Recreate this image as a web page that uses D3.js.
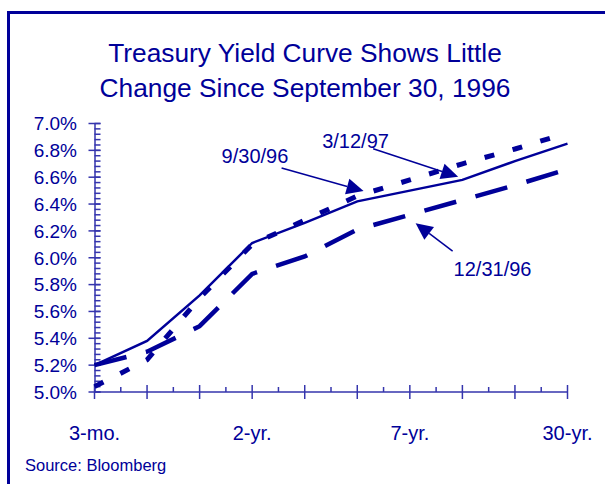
<!DOCTYPE html>
<html><head><meta charset="utf-8">
<script src="https://cdn.jsdelivr.net/npm/d3@7"></script>
<style>body{margin:0;background:#fff} svg{display:block}</style>
</head><body>
<svg id="c" width="605" height="484"></svg>
<script>
// ---- data ----
const categories = ["3-mo.","6-mo.","1-yr.","2-yr.","3-yr.","5-yr.","7-yr.","10-yr.","20-yr.","30-yr."];
const tickLabels = ["3-mo.","2-yr.","7-yr.","30-yr."];
const yields_9_30_96  = [5.04, 5.24, 5.70, 6.10, 6.28, 6.46, 6.58, 6.70, 6.81, 6.93];
const yields_3_12_97  = [5.20, 5.38, 5.72, 6.11, 6.26, 6.42, 6.50, 6.58, 6.72, 6.85];
const yields_12_31_96 = [5.20, 5.30, 5.49, 5.88, 6.01, 6.21, 6.32, 6.43, 6.54, 6.66];
const yMajorTicks = [5.0, 5.2, 5.4, 5.6, 5.8, 6.0, 6.2, 6.4, 6.6, 6.8, 7.0];
const seriesNames = ["9/30/96", "3/12/97", "12/31/96"];

// ---- layout / style ----
const navy = "#000099";
const font = "'Liberation Sans', Arial, sans-serif";
const svg = d3.select("#c");

const x = d3.scalePoint().domain(categories).range([94.5, 567.5]);
const y = d3.scaleLinear().domain([5, 7]).range([392, 123.5]);

// frame
svg.append("rect").attr("x", 8.5).attr("y", 12.5).attr("width", 640).attr("height", 520)
  .attr("fill", "none").attr("stroke", navy).attr("stroke-width", 3);

// title
const title = svg.append("text").attr("text-anchor", "middle").attr("fill", navy)
  .attr("font-family", font).attr("font-size", 26.3);
title.append("tspan").attr("x", 305).attr("y", 62).text("Treasury Yield Curve Shows Little");
title.append("tspan").attr("x", 305).attr("y", 97).text("Change Since September 30, 1996");

// axes
const axisColor = "#3535ad";
const g = svg.append("g");
// y axis line via d3 axis
const yAxis = d3.axisLeft(y).tickValues(yMajorTicks).tickSizeInner(0).tickSizeOuter(0)
  .tickPadding(0).tickFormat(d3.format(".1f"));
const yg = g.append("g").attr("transform", `translate(${x.range()[0]},0)`).call(yAxis);
yg.select(".domain").attr("stroke", axisColor).attr("stroke-width", 1.5);
yg.selectAll(".tick").remove();
// minor y ticks (every 0.04) on right side
const yMinor = d3.range(0, 51).map(i => 5 + i * 0.04).filter(v => v <= 7.0001);
g.append("g").selectAll("line").data(yMinor).join("line")
  .attr("x1", x.range()[0]).attr("x2", x.range()[0] + 6)
  .attr("y1", d => y(d)).attr("y2", d => y(d))
  .attr("stroke", axisColor).attr("stroke-width", 1.5);
g.append("g").selectAll("line").data(yMajorTicks).join("line")
  .attr("x1", x.range()[0] - 6).attr("x2", x.range()[0] + 6)
  .attr("y1", d => y(d)).attr("y2", d => y(d))
  .attr("stroke", axisColor).attr("stroke-width", 1.5);
g.append("g").selectAll("text").data(yMajorTicks).join("text")
  .attr("x", 77).attr("y", d => y(d)).attr("dy", "0.36em")
  .attr("text-anchor", "end").attr("fill", navy).attr("font-family", font).attr("font-size", 19)
  .text(d => d3.format(".1f")(d) + "%");

// x axis
g.append("line").attr("x1", x.range()[0]).attr("x2", x.range()[1] + 0.5)
  .attr("y1", y(5)).attr("y2", y(5)).attr("stroke", axisColor).attr("stroke-width", 1.5);
g.append("g").selectAll("line").data(categories).join("line")
  .attr("x1", d => x(d)).attr("x2", d => x(d))
  .attr("y1", y(5) - 7).attr("y2", y(5) + 7)
  .attr("stroke", axisColor).attr("stroke-width", 1.5);
const step = x.step();
g.append("g").selectAll("line").data(categories.slice(0, -1)).join("line")
  .attr("x1", d => x(d) + step / 2).attr("x2", d => x(d) + step / 2)
  .attr("y1", y(5) - 5).attr("y2", y(5))
  .attr("stroke", axisColor).attr("stroke-width", 1.5);
g.append("g").selectAll("text").data(tickLabels).join("text")
  .attr("x", d => x(d)).attr("y", 440)
  .attr("text-anchor", "middle").attr("fill", navy).attr("font-family", font).attr("font-size", 20)
  .text(d => d);

// lines
const line = d3.line().x((d, i) => x(categories[i])).y(d => y(d));
const series = [
  { name: seriesNames[1], values: yields_3_12_97,  width: 2.5, dash: null },
  { name: seriesNames[2], values: yields_12_31_96, width: 4.5, dash: "33,20" },
  { name: seriesNames[0], values: yields_9_30_96,  width: 5,   dash: "10,19" },
];
svg.append("g").selectAll("path").data(series).join("path")
  .attr("d", d => line(d.values))
  .attr("fill", "none").attr("stroke", navy)
  .attr("stroke-width", d => d.width)
  .attr("stroke-dasharray", d => d.dash);

// annotations: arrow tips anchored to the series (fractional category index), label offsets
function ptAt(values, fi) {
  const i = Math.floor(fi), t = fi - i;
  const x0 = x(categories[i]), x1 = x(categories[Math.min(i + 1, categories.length - 1)]);
  const v = values[i] + (values[Math.min(i + 1, values.length - 1)] - values[i]) * t;
  return [x0 + (x1 - x0) * t, y(v)];
}
const annotations = [
  { text: seriesNames[0], values: yields_9_30_96,  at: 5.12, tip: [0, -3],  tail: [-82, -23], label: [-142, -28] },
  { text: seriesNames[1], values: yields_3_12_97,  at: 6.92, tip: [0, -4],  tail: [-85, -28], label: [-136, -29] },
  { text: seriesNames[2], values: yields_12_31_96, at: 6.11, tip: [0, 10],  tail: [37, 28],   label: [38, 53] },
];
const ag = svg.append("g");
annotations.forEach(a => {
  const p = ptAt(a.values, a.at);
  const tip = [p[0] + a.tip[0], p[1] + a.tip[1]];
  const tail = [tip[0] + a.tail[0], tip[1] + a.tail[1]];
  const ang = Math.atan2(tip[1] - tail[1], tip[0] - tail[0]);
  const L = 17, Wd = 8;
  const bx = tip[0] - L * Math.cos(ang), by = tip[1] - L * Math.sin(ang);
  ag.append("line").attr("x1", tail[0]).attr("y1", tail[1]).attr("x2", bx).attr("y2", by)
    .attr("stroke", navy).attr("stroke-width", 1.5);
  const nx = -Math.sin(ang), ny = Math.cos(ang);
  ag.append("path").attr("d", `M${tip[0]},${tip[1]}L${bx + nx * Wd},${by + ny * Wd}L${bx - nx * Wd},${by - ny * Wd}Z`)
    .attr("fill", navy);
  ag.append("text").attr("x", tip[0] + a.label[0]).attr("y", tip[1] + a.label[1])
    .attr("fill", navy).attr("font-family", font).attr("font-size", 20).text(a.text);
});

// source
svg.append("text").attr("x", 25).attr("y", 471).attr("fill", navy)
  .attr("font-family", font).attr("font-size", 16.5).text("Source: Bloomberg");
</script>
</body></html>
